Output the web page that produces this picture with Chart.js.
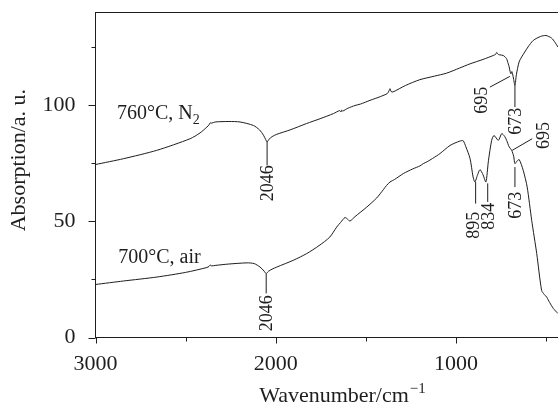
<!DOCTYPE html>
<html><head><meta charset="utf-8">
<script src="https://cdn.jsdelivr.net/npm/chart.js@4/dist/chart.umd.min.js"></script>
<style>html,body{margin:0;padding:0;background:#fff;overflow:hidden}#wrap{width:558px;height:406px;position:relative}</style>
</head><body><div id="wrap"><canvas id="c"></canvas></div>
<script>
// ---- data ----
const wnN2  = [3000,2845,2660,2475,2420,2382,2370,2364,2355,2336,2260,2198,2124,2090,2068,2056,2048,2038,2020,1994,1920,1830,1754,1680,1645,1638,1634,1628,1600,1560,1530,1477,1420,1380,1370,1366,1360,1350,1280,1200,1120,1052,980,922,850,793,780,774,766,760,738,720,710,705,700,695,690,686,680,673,665,650,636,600,571,530,501,470,451,434];
const absN2 = [74.4,76.9,80.5,85.5,88.0,90.5,91.5,92.3,92.2,92.7,92.9,92.7,91.2,89.3,87.0,85.2,84.1,85.2,86.4,87.4,89.3,92.0,94.1,96.3,97.6,97.0,97.8,97.4,98.6,99.8,100.4,102.0,103.6,105.0,106.4,107.0,105.8,105.6,108.4,110.9,112.4,113.7,115.9,117.7,119.6,121.3,121.8,122.6,121.8,121.6,121.3,120.0,117.7,116.4,114.5,113.4,114.4,113.4,111.0,108.4,113.0,118.5,120.6,125.0,127.8,129.5,129.9,128.8,127.0,124.9];

const wnAir  = [3000,2845,2660,2500,2382,2370,2364,2355,2336,2260,2160,2120,2087,2065,2053,2040,2020,1994,1900,1828,1760,1700,1662,1640,1616,1600,1588,1560,1495,1440,1403,1385,1366,1340,1292,1240,1200,1181,1160,1130,1089,1033,978,960,945,922,905,895,880,867,850,834,820,802,789,765,746,730,719,705,691,680,673,660,649,627,605,580,552,525,510,497,480,460,434];
const absAir = [22.8,24.3,26.0,28.0,30.1,30.6,31.2,30.8,31.0,31.6,32.1,31.8,30.3,28.6,27.5,28.5,29.4,30.3,33.3,36.1,39.5,43.2,47.5,49.5,51.6,50.8,50.1,52.0,56.1,60.0,63.6,65.4,66.9,68.0,70.5,72.5,73.8,74.8,75.6,77.0,79.1,82.6,84.5,84.6,82.0,77.0,69.0,66.9,70.0,72.2,70.0,66.9,76.0,84.8,86.9,84.8,87.7,86.5,84.8,82.0,80.5,78.0,74.8,76.0,76.5,71.9,64.7,50.4,36.1,20.3,18.5,17.4,15.0,12.5,10.3];

const xRange = [3000, 434];
const yRange = [0, 140];
const xTicksMajor = [3000, 2000, 1000];
const xTicksMinor = [2500, 1500, 500];
const yTicksMajor = [0, 50, 100];
const yTicksMinor = [25, 75, 125];

const seriesName = ['760°C, N', '700°C, air'];
const seriesSub  = ['2', ''];
const seriesLabelWn = [2881, 2874];
const seriesLabelY  = [94.1, 31.9];

const peakText  = ['2046','2046','695','673','695','673','895','834'];
const peakWn0   = [2048, 2053, 701, 673, 688, 673, 891, 824];
const peakY0    = [84.1, 27.5, 112.3, 108.4, 80.5, 73.3, 66.9, 66.3];
const peakWn1   = [2048, 2053, 812, 673, 577, 673, 891, 824];
const peakY1    = [74.0, 19.0, 107.7, 99.1, 85.5, 64.7, 57.6, 58.3];
const labelWn   = [2048, 2053, 857, 673, 516, 673, 906, 822];
const labelY    = [66.3, 10.4, 102.0, 93.0, 86.9, 56.9, 48.3, 52.1];

const xTitle = 'Wavenumber/cm';
const xTitleSup = '\u22121';
const yTitle = 'Absorption/a. u.';

// ---- chart ----
const SERIF = '"Liberation Serif", "Times New Roman", serif';
const INK = '#1e1e1e';
const toPts = (xs, ys) => xs.map((x, i) => ({x: x, y: ys[i]}));
const noPad = s => { s.paddingTop = 0; s.paddingBottom = 0; s.paddingLeft = 0; s.paddingRight = 0; };

const decor = {
  id: 'decor',
  afterDraw(chart) {
    const {ctx, chartArea: ca, scales: {x, y}} = chart;
    ctx.save();
    ctx.strokeStyle = INK; ctx.fillStyle = INK; ctx.lineWidth = 1;
    // top frame
    ctx.beginPath(); ctx.moveTo(ca.left, ca.top + 0.5); ctx.lineTo(ca.right, ca.top + 0.5); ctx.stroke();
    // tick marks
    ctx.beginPath();
    yTicksMajor.forEach(v => { const p = Math.round(y.getPixelForValue(v)) + 0.5; ctx.moveTo(ca.left - 7, p); ctx.lineTo(ca.left, p); });
    yTicksMinor.forEach(v => { const p = Math.round(y.getPixelForValue(v)) + 0.5; ctx.moveTo(ca.left - 4, p); ctx.lineTo(ca.left, p); });
    xTicksMajor.forEach(v => { const p = Math.round(x.getPixelForValue(v)) + 0.5; ctx.moveTo(p, ca.bottom); ctx.lineTo(p, ca.bottom + 6); });
    xTicksMinor.forEach(v => { const p = Math.round(x.getPixelForValue(v)) + 0.5; ctx.moveTo(p, ca.bottom); ctx.lineTo(p, ca.bottom + 4); });
    ctx.stroke();
    // series labels
    ctx.textBaseline = 'alphabetic'; ctx.textAlign = 'left';
    seriesName.forEach((t, i) => {
      const px = x.getPixelForValue(seriesLabelWn[i]), py = y.getPixelForValue(seriesLabelY[i]);
      ctx.font = '20px ' + SERIF; ctx.fillText(t, px, py);
      if (seriesSub[i]) {
        const w = ctx.measureText(t).width;
        ctx.font = '14px ' + SERIF; ctx.fillText(seriesSub[i], px + w, py + 5);
      }
    });
    // peak annotations
    ctx.beginPath();
    peakText.forEach((t, i) => {
      ctx.moveTo(x.getPixelForValue(peakWn0[i]), y.getPixelForValue(peakY0[i]));
      ctx.lineTo(x.getPixelForValue(peakWn1[i]), y.getPixelForValue(peakY1[i]));
    });
    ctx.stroke();
    ctx.font = '18px ' + SERIF; ctx.textAlign = 'center'; ctx.textBaseline = 'middle';
    peakText.forEach((t, i) => {
      ctx.save();
      ctx.translate(x.getPixelForValue(labelWn[i]), y.getPixelForValue(labelY[i]));
      ctx.rotate(-Math.PI / 2);
      ctx.fillText(t, 0, 1);
      ctx.restore();
    });
    // axis titles
    ctx.textBaseline = 'alphabetic'; ctx.textAlign = 'left';
    ctx.font = '22px ' + SERIF;
    const w1 = ctx.measureText(xTitle).width;
    ctx.font = '15px ' + SERIF;
    const w2 = ctx.measureText(xTitleSup).width;
    const cx = ca.left + (ca.right - ca.left) * 0.534;
    const bx = cx - (w1 + w2 + 1) / 2, by = ca.bottom + 64;
    ctx.font = '22px ' + SERIF; ctx.fillText(xTitle, bx, by);
    ctx.font = '15px ' + SERIF; ctx.fillText(xTitleSup, bx + w1 + 1, by - 9);
    ctx.save();
    ctx.translate(ca.left - 76, ca.top + (ca.bottom - ca.top) * 0.455);
    ctx.rotate(-Math.PI / 2);
    ctx.font = '22px ' + SERIF; ctx.textAlign = 'center'; ctx.textBaseline = 'middle';
    ctx.fillText(yTitle, 0, 0);
    ctx.restore();
    ctx.restore();
  }
};

new Chart(document.getElementById('c'), {
  type: 'line',
  data: {
    datasets: [
      {label: '760°C, N2', data: toPts(wnN2, absN2), borderColor: INK, borderWidth: 1, pointRadius: 0, tension: 0.25, fill: false},
      {label: '700°C, air', data: toPts(wnAir, absAir), borderColor: INK, borderWidth: 1, pointRadius: 0, tension: 0.25, fill: false}
    ]
  },
  options: {
    responsive: true, maintainAspectRatio: false, animation: false,
    devicePixelRatio: 1,
    layout: {padding: {top: 12, right: 0, left: 0, bottom: 0}},
    plugins: {legend: {display: false}, tooltip: {enabled: false}},
    scales: {
      x: {
        type: 'linear', reverse: true, min: xRange[1], max: xRange[0],
        grid: {display: false, drawTicks: false},
        border: {display: true, color: INK, width: 1},
        afterBuildTicks: s => { s.ticks = xTicksMajor.map(v => ({value: v})); },
        afterFit: s => { s.height = 406 - 337.5; noPad(s); },
        ticks: {color: INK, font: {family: SERIF, size: 22}, padding: 14, maxRotation: 0, autoSkip: false, callback: v => String(v)}
      },
      y: {
        type: 'linear', min: yRange[0], max: yRange[1],
        grid: {display: false, drawTicks: false},
        border: {display: true, color: INK, width: 1},
        afterBuildTicks: s => { s.ticks = yTicksMajor.map(v => ({value: v})); },
        afterFit: s => { s.width = 95.5; noPad(s); },
        ticks: {color: INK, font: {family: SERIF, size: 22}, padding: 20, callback: v => String(v)}
      }
    }
  },
  plugins: [decor]
});
</script>
</body></html>
